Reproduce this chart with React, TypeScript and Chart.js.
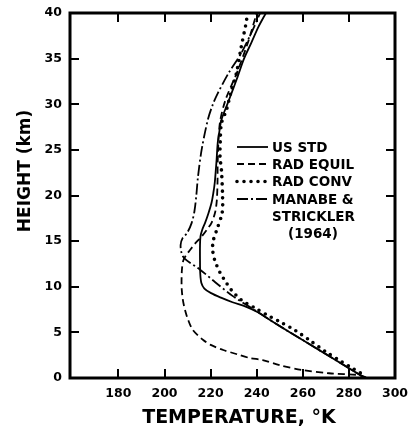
import React, { useEffect, useRef } from "react";
import { Chart, registerables } from "chart.js";

Chart.register(...registerables);

const FONT = "'DejaVu Sans', 'Liberation Sans', sans-serif";

// Axis ticks
const xTickValues = [180, 200, 220, 240, 260, 280, 300];
const yTickValues = [0, 5, 10, 15, 20, 25, 30, 35, 40];
const xTickMarks = [180, 200, 220, 240, 260, 280];
const yTickMarks = [5, 10, 15, 20, 25, 30, 35];

const xTitle = "TEMPERATURE, °K";
const yTitle = "HEIGHT (km)";

// Legend text
const legendLabels = ["US STD", "RAD EQUIL", "RAD CONV", "MANABE &"];
const legendExtra = ["STRICKLER", "(1964)"];

// US STANDARD atmosphere (solid)
const usStdHeight = [0, 2, 4, 6, 7.2, 7.8, 8.3, 8.8, 9.3, 9.8, 10.4, 11.5, 13, 14.5, 15.5, 16.2, 17, 18, 19.2, 20.3, 21.4, 22.6, 23.9, 25.8, 27, 28.3, 30.1, 31.5, 33, 35, 36.7, 38.5, 40];
const usStdTemp = [287, 274, 261, 248, 240.5, 235.5, 229.5, 224.5, 220.2, 217.3, 216, 215.5, 215.4, 215.4, 215.6, 216.3, 217.6, 219, 220.4, 221.2, 221.8, 222.2, 222.6, 223.1, 223.8, 224.7, 227.4, 229.5, 231.7, 234.5, 237.6, 240.8, 244];

// Radiative equilibrium (dashed)
const radEquilHeight = [0, 0.15, 0.33, 0.52, 0.88, 1.4, 1.97, 2.19, 2.6, 3.07, 3.6, 4.16, 5.26, 6.4, 7.45, 8.5, 9.64, 10.7, 12, 12.9, 13.5, 14, 14.8, 15.5, 16.3, 17, 18.2, 19.5, 21.5, 23.9, 27.9, 30.5, 33.5, 37, 40];
const radEquilTemp = [287.5, 286.5, 284.3, 271.4, 259.7, 250, 242.6, 237, 231.5, 225.5, 220.3, 216.8, 212.3, 210.2, 208.9, 208, 207.5, 207.4, 207.6, 208.2, 209.5, 211, 213.5, 216.1, 218.5, 220.4, 222, 222.7, 223, 223.1, 224, 226.5, 231.5, 236.5, 240];

// Radiative-convective (dotted)
const radConvHeight = [0, 0.55, 1.1, 1.97, 2.85, 4.16, 5.2, 6.1, 6.7, 7.67, 8.55, 9.64, 10.4, 11.6, 12.9, 14, 15, 16.1, 18.1, 19.8, 22.8, 24.2, 26, 27.9, 29.4, 31.5, 33.4, 36.3, 38.9, 40];
const radConvTemp = [287, 285, 281.3, 275.7, 270.1, 262.8, 256.8, 250.5, 246, 239.2, 233.3, 229, 226.9, 224, 221.8, 220.9, 221.1, 222.5, 225, 225.2, 224.7, 224.1, 224.2, 224.7, 226.9, 229, 231.2, 233.3, 235.4, 236];

// Manabe & Strickler (1964) (dash-dot)
const manabeHeight = [0, 2, 4, 6, 7.8, 9, 10.5, 11.9, 13.1, 13.8, 14.6, 15.3, 15.9, 17, 18.3, 20, 22, 25, 28.3, 30, 31.2, 33.5, 35.6, 38, 40];
const manabeTemp = [287, 274, 261, 248, 236.9, 229.5, 222, 215.3, 208.6, 207.3, 207, 207.8, 209.8, 211.8, 213, 213.8, 214.5, 216.1, 218.8, 221, 223.1, 228, 233.3, 238, 241.5];

function pts(t: number[], h: number[]) {
  return t.map((v, i) => ({ x: v, y: h[i] }));
}

const decor = {
  id: "decor",
  afterDraw(chart: any) {
    const { ctx, chartArea: a, scales } = chart;
    const x = scales.x;
    const y = scales.y;
    ctx.save();
    ctx.strokeStyle = "#000";
    ctx.fillStyle = "#000";
    ctx.setLineDash([]);
    ctx.lineCap = "butt";
    // frame
    ctx.lineWidth = 3;
    ctx.strokeRect(a.left, a.top, a.right - a.left, a.bottom - a.top);
    // inward ticks
    ctx.lineWidth = 2;
    const seg = (x1: number, y1: number, x2: number, y2: number) => {
      ctx.beginPath();
      ctx.moveTo(x1, y1);
      ctx.lineTo(x2, y2);
      ctx.stroke();
    };
    for (const v of xTickMarks) {
      const px = Math.round(x.getPixelForValue(v));
      seg(px, a.bottom, px, a.bottom - 9);
      seg(px, a.top, px, a.top + 9);
    }
    for (const v of yTickMarks) {
      const py = Math.round(y.getPixelForValue(v));
      seg(a.left, py, a.left + 9, py);
      seg(a.right, py, a.right - 9, py);
    }
    // legend
    const ds = chart.data.datasets;
    const rowY = [147, 164, 181.5, 199];
    ctx.font = `bold 13.5px ${FONT}`;
    ctx.textBaseline = "middle";
    ctx.textAlign = "left";
    legendLabels.forEach((lab, i) => {
      const d = ds[i];
      ctx.save();
      ctx.strokeStyle = "#000";
      ctx.lineWidth = d.borderWidth;
      ctx.lineCap = d.borderCapStyle || "butt";
      ctx.setLineDash(d.borderDash || []);
      seg(237, rowY[i], 268, rowY[i]);
      ctx.restore();
      ctx.fillText(lab, 272, rowY[i] + 1);
    });
    ctx.fillText(legendExtra[0], 272, 217);
    ctx.fillText(legendExtra[1], 288, 234.5);
    // axis titles
    ctx.textAlign = "center";
    ctx.font = `bold 19px ${FONT}`;
    ctx.fillText(xTitle, 239, 418);
    ctx.save();
    ctx.translate(26, 171);
    ctx.rotate(-Math.PI / 2);
    ctx.font = `bold 17px ${FONT}`;
    ctx.fillText(yTitle, 0, 0);
    ctx.restore();
    ctx.restore();
  },
};

export default function App() {
  const ref = useRef<HTMLCanvasElement>(null);
  useEffect(() => {
    const canvas = ref.current!;
    const tickFont = { family: FONT, size: 12.5, weight: "bold" as const };
    const chart = new Chart(canvas, {
      type: "scatter",
      data: {
        datasets: [
          {
            label: "US STD",
            data: pts(usStdTemp, usStdHeight),
            showLine: true,
            borderColor: "#000",
            borderWidth: 1.8,
            pointRadius: 0,
            tension: 0.3,
          },
          {
            label: "RAD EQUIL",
            data: pts(radEquilTemp, radEquilHeight),
            showLine: true,
            borderColor: "#000",
            borderWidth: 1.8,
            borderDash: [7, 4],
            pointRadius: 0,
            tension: 0.3,
          },
          {
            label: "RAD CONV",
            data: pts(radConvTemp, radConvHeight),
            showLine: true,
            borderColor: "#000",
            borderWidth: 3.6,
            borderDash: [0, 7],
            borderCapStyle: "round",
            pointRadius: 0,
            tension: 0.3,
          },
          {
            label: "MANABE & STRICKLER (1964)",
            data: pts(manabeTemp, manabeHeight),
            showLine: true,
            borderColor: "#000",
            borderWidth: 1.8,
            borderDash: [11, 3, 2, 3],
            pointRadius: 0,
            tension: 0.3,
          },
        ],
      },
      options: {
        responsive: false,
        animation: false,
        layout: { padding: { top: 13, right: 16, left: 0, bottom: 0 } },
        plugins: { legend: { display: false }, tooltip: { enabled: false } },
        scales: {
          x: {
            type: "linear",
            min: 159,
            max: 300,
            grid: { display: false, drawTicks: false },
            border: { display: false },
            ticks: { color: "#000", font: tickFont, padding: 8 },
            afterBuildTicks: (s: any) => {
              s.ticks = xTickValues.map((v) => ({ value: v }));
            },
            afterFit: (s: any) => {
              s.height = 52;
              s.paddingLeft = 0;
              s.paddingRight = 0;
            },
          },
          y: {
            type: "linear",
            min: 0,
            max: 40,
            grid: { display: false, drawTicks: false },
            border: { display: false },
            ticks: { color: "#000", font: tickFont, padding: 8 },
            afterBuildTicks: (s: any) => {
              s.ticks = yTickValues.map((v) => ({ value: v }));
            },
            afterFit: (s: any) => {
              s.width = 70;
              s.paddingTop = 0;
              s.paddingBottom = 0;
            },
          },
        },
      },
      plugins: [decor],
    });
    return () => chart.destroy();
  }, []);
  return (
    <div style={{ position: "absolute", left: 0, top: 0, width: 411, height: 430, background: "#fff" }}>
      <canvas ref={ref} width={411} height={430} style={{ display: "block" }} />
    </div>
  );
}
